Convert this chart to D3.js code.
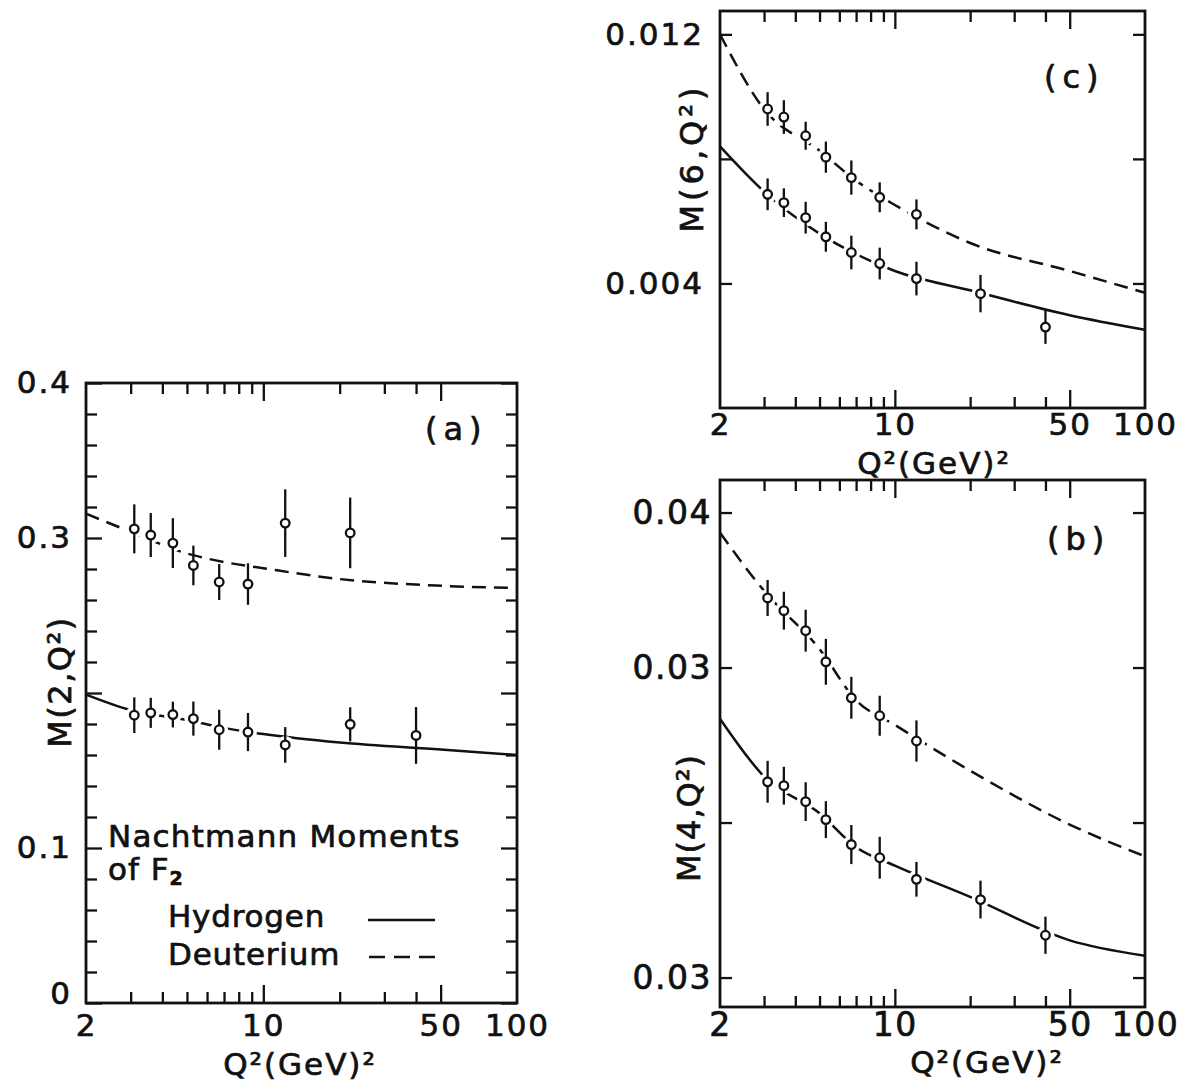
<!DOCTYPE html>
<html>
<head>
<meta charset="utf-8">
<script src="https://cdnjs.cloudflare.com/ajax/libs/d3/7.8.5/d3.min.js"></script>
<style>
  body { margin: 0; background: #fff; }
  svg { display: block; }
  text { font-family: "DejaVu Sans", sans-serif; fill: #111; stroke: #111; stroke-width: 0.7px; }
</style>
</head>
<body>
<div id="chart"></div>
<script>
// Q^2 of the measured points (GeV^2)
const q2 = [3.1, 3.6, 4.4, 5.3, 6.7, 8.7, 12.2, 22, 40];

// M(2,Q^2)
const m2H = [0.1857, 0.1872, 0.1861, 0.1835, 0.1763, 0.1748, 0.1665, 0.1798, 0.1726];
const m2HErr = [0.0115, 0.0097, 0.0083, 0.011, 0.0129, 0.0123, 0.0115, 0.011, 0.0183];
const m2D = [0.3059, 0.3019, 0.2967, 0.2823, 0.2716, 0.2703, 0.3096, 0.3033];
const m2DErr = [0.0158, 0.0142, 0.0161, 0.0128, 0.0116, 0.0134, 0.0218, 0.0228];

// M(4,Q^2)
const m4H = [0.02263, 0.02238, 0.02135, 0.02019, 0.01858, 0.01773, 0.01634, 0.01503, 0.01273];
const m4HErr = [0.00135, 0.00122, 0.00125, 0.00119, 0.00126, 0.00135, 0.00112, 0.00122, 0.0012];
const m4D = [0.03449, 0.03367, 0.03238, 0.03037, 0.02805, 0.02689, 0.02526];
const m4DErr = [0.00116, 0.00122, 0.00135, 0.00148, 0.00135, 0.00129, 0.00133];

// M(6,Q^2)
const m6H = [0.006863, 0.006595, 0.006112, 0.005499, 0.004994, 0.00464, 0.004157, 0.003673, 0.0026];
const m6HErr = [0.00051, 0.00046, 0.00051, 0.00048, 0.00054, 0.00051, 0.00054, 0.0006, 0.00054];
const m6D = [0.009603, 0.009345, 0.008744, 0.008056, 0.0074, 0.006767, 0.006219];
const m6DErr = [0.00054, 0.00054, 0.00045, 0.0005, 0.00055, 0.00048, 0.00048];

const fitQ2 = [2, 3, 5, 7, 10, 20, 50, 100];
const m2HFit = [0.199, 0.189, 0.1825, 0.1775, 0.1735, 0.168, 0.1635, 0.160];
const m2DFit = [0.3157, 0.304, 0.290, 0.2845, 0.2805, 0.2735, 0.2692, 0.2677];
const m4HFit = [0.0267, 0.02297, 0.0206, 0.0184, 0.01722, 0.0152, 0.0124, 0.0114];
const m4DFit = [0.0387, 0.03495, 0.03119, 0.02789, 0.0263, 0.02335, 0.01987, 0.01782];
const m6HFit = [0.0084, 0.00695, 0.0056, 0.00494, 0.0044, 0.00378, 0.00298, 0.00251];
const m6DFit = [0.0120, 0.0096, 0.00826, 0.0073, 0.00652, 0.0053, 0.0044, 0.0037];

// x axis ticks
const xLabelVals = [2, 10, 50, 100];
const xTickLabels = ["2", "10", "50", "100"];
const xMajor = [10, 50];
const xMinor = [3, 4, 5, 6, 7, 8, 9, 20, 30, 40];

// y axis ticks
const yTicksA = [0, 0.1, 0.2, 0.3, 0.4];
const yLabelsA = ["0", "0.1", "", "0.3", "0.4"];
const yMinorA = [0.02, 0.04, 0.06, 0.08, 0.12, 0.14, 0.16, 0.18, 0.22, 0.24, 0.26, 0.28, 0.32, 0.34, 0.36, 0.38];
const yTicksB = [0.01, 0.02, 0.03, 0.04];
const yLabelsB = ["0.03", "", "0.03", "0.04"];
const yTicksC = [0.004, 0.008, 0.012];
const yLabelsC = ["0.004", "", "0.012"];

const ink = "#111";
const svg = d3.select("#chart").append("svg")
  .attr("width", 1191)
  .attr("height", 1082);

const panels = [
  {
    x0: 86, x1: 517, y0: 383, y1: 1003, yDom: [0, 0.4],
    yTicks: yTicksA, yLabels: yLabelsA, yMinor: yMinorA, majorLen: 16,
    hyd: m2H, hydErr: m2HErr, deu: m2D, deuErr: m2DErr, hydFit: m2HFit, deuFit: m2DFit,
    fs: 31, ls: 2, yPad: 14, xPad: 11,
    tag: "(a)", tagX: 425, tagY: 440,
    title: "M(2,Q²)", titleX: 71, titleY: 682, titleLs: 1.5,
    xTitleX: 300, xTitleY: 1075
  },
  {
    x0: 720, x1: 1145, y0: 480, y1: 1007, yDom: [0.0081, 0.0421],
    yTicks: yTicksB, yLabels: yLabelsB, yMinor: [], majorLen: 12,
    hyd: m4H, hydErr: m4HErr, deu: m4D, deuErr: m4DErr, hydFit: m4HFit, deuFit: m4DFit,
    fs: 33, ls: 1.5, yPad: 8, xPad: 6,
    tag: "(b)", tagX: 1047, tagY: 550,
    title: "M(4,Q²)", titleX: 700, titleY: 818, titleLs: 1,
    xTitleX: 987, xTitleY: 1073
  },
  {
    x0: 720, x1: 1145, y0: 11, y1: 408, yDom: [0, 0.01275],
    yTicks: yTicksC, yLabels: yLabelsC, yMinor: [], majorLen: 12,
    hyd: m6H, hydErr: m6HErr, deu: m6D, deuErr: m6DErr, hydFit: m6HFit, deuFit: m6DFit,
    fs: 31, ls: 2, yPad: 16, xPad: 5,
    tag: "(c)", tagX: 1044, tagY: 88,
    title: "M(6,Q²)", titleX: 703, titleY: 158, titleLs: 4,
    xTitleX: 934, xTitleY: 474
  }
];

panels.forEach(drawPanel);

function drawPanel(p) {
  const x = d3.scaleLog().domain([2, 100]).range([p.x0, p.x1]);
  const y = d3.scaleLinear().domain(p.yDom).range([p.y1, p.y0]);
  const g = svg.append("g");

  // inward ticks on all four sides
  const ticks = (axis, tx, ty) => {
    const a = g.append("g")
      .attr("transform", `translate(${tx},${ty})`)
      .call(axis);
    a.select(".domain").remove();
    a.selectAll("line").attr("stroke", ink).attr("stroke-width", 2.3);
    return a;
  };
  ticks(d3.axisBottom(x).tickValues(xMajor).tickSize(-18).tickFormat(""), 0, p.y1);
  ticks(d3.axisBottom(x).tickValues(xMinor).tickSize(-11).tickFormat(""), 0, p.y1);
  ticks(d3.axisTop(x).tickValues(xMajor).tickSize(-18).tickFormat(""), 0, p.y0);
  ticks(d3.axisTop(x).tickValues(xMinor).tickSize(-11).tickFormat(""), 0, p.y0);
  ticks(d3.axisLeft(y).tickValues(p.yTicks).tickSize(-p.majorLen).tickFormat(""), p.x0, 0);
  ticks(d3.axisRight(y).tickValues(p.yTicks).tickSize(-p.majorLen).tickFormat(""), p.x1, 0);
  if (p.yMinor.length) {
    ticks(d3.axisLeft(y).tickValues(p.yMinor).tickSize(-11).tickFormat(""), p.x0, 0);
    ticks(d3.axisRight(y).tickValues(p.yMinor).tickSize(-11).tickFormat(""), p.x1, 0);
  }

  // tick labels
  const xl = g.append("g")
    .attr("transform", `translate(0,${p.y1})`)
    .call(d3.axisBottom(x).tickValues(xLabelVals).tickSize(0).tickPadding(p.xPad)
      .tickFormat((d, i) => xTickLabels[i]));
  xl.select(".domain").remove();
  xl.attr("font-family", null).attr("font-size", null);
  xl.selectAll("text").attr("font-size", p.fs).attr("letter-spacing", p.ls).attr("fill", ink);

  const yl = g.append("g")
    .attr("transform", `translate(${p.x0},0)`)
    .call(d3.axisLeft(y).tickValues(p.yTicks).tickSize(0).tickPadding(p.yPad)
      .tickFormat((d, i) => p.yLabels[i]));
  yl.select(".domain").remove();
  yl.attr("font-family", null).attr("font-size", null);
  yl.selectAll("text").attr("font-size", p.fs).attr("letter-spacing", p.ls).attr("fill", ink)
    .filter(d => d === 0).attr("dy", "0.0em");

  // frame
  g.append("rect")
    .attr("x", p.x0).attr("y", p.y0)
    .attr("width", p.x1 - p.x0).attr("height", p.y1 - p.y0)
    .attr("fill", "none").attr("stroke", ink).attr("stroke-width", 2.8);

  // fitted curves
  const line = d3.line()
    .x(d => x(d[0]))
    .y(d => y(d[1]))
    .curve(d3.curveMonotoneX);
  g.append("path")
    .attr("d", line(d3.zip(fitQ2, p.hydFit)))
    .attr("fill", "none").attr("stroke", ink).attr("stroke-width", 2.5);
  g.append("path")
    .attr("d", line(d3.zip(fitQ2, p.deuFit)))
    .attr("fill", "none").attr("stroke", ink).attr("stroke-width", 2.5)
    .attr("stroke-dasharray", "14,8");

  // data points: white gap in the curve, error bar, open circle
  [[p.hyd, p.hydErr], [p.deu, p.deuErr]].forEach(([vals, errs]) => {
    const pts = vals.map((v, i) => ({ q: q2[i], v: v, e: errs[i] }));
    g.selectAll(null).data(pts).enter().append("circle")
      .attr("cx", d => x(d.q)).attr("cy", d => y(d.v))
      .attr("r", 9).attr("fill", "#fff");
    g.selectAll(null).data(pts).enter().append("line")
      .attr("x1", d => x(d.q)).attr("x2", d => x(d.q))
      .attr("y1", d => y(d.v - d.e)).attr("y2", d => y(d.v + d.e))
      .attr("stroke", ink).attr("stroke-width", 2.3);
    g.selectAll(null).data(pts).enter().append("circle")
      .attr("cx", d => x(d.q)).attr("cy", d => y(d.v))
      .attr("r", 4.3).attr("fill", "#fff")
      .attr("stroke", ink).attr("stroke-width", 2.3);
  });

  // panel tag
  g.append("text")
    .attr("x", p.tagX).attr("y", p.tagY)
    .attr("font-size", 32).attr("letter-spacing", 6)
    .text(p.tag);

  // axis titles
  g.append("text")
    .attr("x", p.xTitleX).attr("y", p.xTitleY)
    .attr("text-anchor", "middle")
    .attr("font-size", 31).attr("letter-spacing", 2)
    .text("Q²(GeV)²");
  g.append("text")
    .attr("transform", `translate(${p.titleX},${p.titleY}) rotate(-90)`)
    .attr("text-anchor", "middle")
    .attr("font-size", 32).attr("letter-spacing", p.titleLs)
    .text(p.title);
}

// legend inside panel (a)
const legend = svg.append("g");
legend.append("text")
  .attr("x", 108).attr("y", 847)
  .attr("font-size", 31).attr("letter-spacing", 1.2)
  .text("Nachtmann Moments");
const ofF = legend.append("text")
  .attr("x", 108).attr("y", 880)
  .attr("font-size", 31).attr("letter-spacing", 1);
ofF.append("tspan").text("of F");
ofF.append("tspan").attr("dy", 5).attr("font-size", 19).attr("font-weight", "bold").text("2");
legend.append("text")
  .attr("x", 168).attr("y", 927)
  .attr("font-size", 31).attr("letter-spacing", 0.8)
  .text("Hydrogen");
legend.append("text")
  .attr("x", 168).attr("y", 965)
  .attr("font-size", 31).attr("letter-spacing", 0.8)
  .text("Deuterium");
legend.append("line")
  .attr("x1", 368).attr("x2", 435).attr("y1", 920).attr("y2", 920)
  .attr("stroke", ink).attr("stroke-width", 2.4);
legend.append("line")
  .attr("x1", 369).attr("x2", 435).attr("y1", 957).attr("y2", 957)
  .attr("stroke", ink).attr("stroke-width", 2.4)
  .attr("stroke-dasharray", "16,9");
</script>
</body>
</html>
